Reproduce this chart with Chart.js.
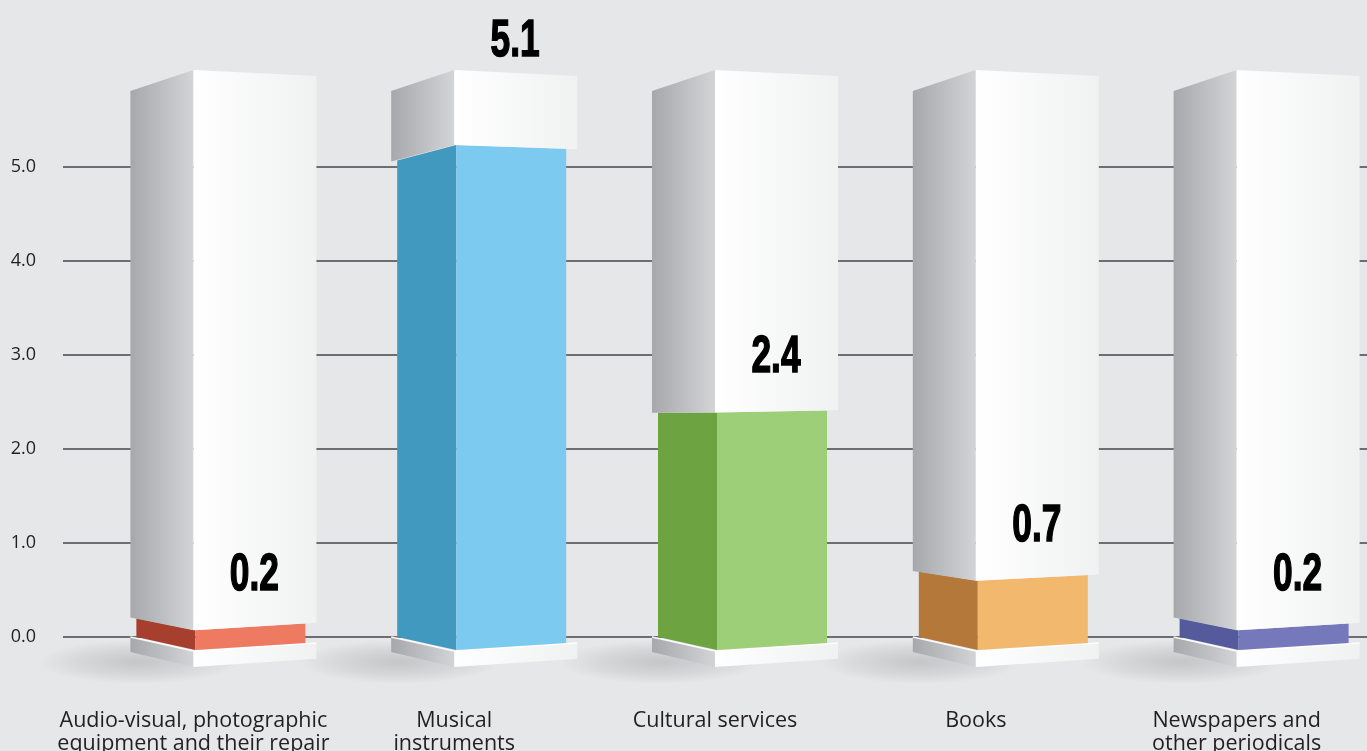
<!DOCTYPE html>
<html>
<head>
<meta charset="utf-8">
<script src="https://cdn.jsdelivr.net/npm/chart.js@4.4.1/dist/chart.umd.min.js"></script>
<style>
  html, body { margin: 0; padding: 0; background: #e6e7e8; overflow: hidden; }
  canvas { display: block; }
</style>
</head>
<body>
<canvas id="c" width="1367" height="751"></canvas>
<script>
// ---- data ----
const categories = [
  ['Audio-visual, photographic', 'equipment and their repair'],
  ['Musical', 'instruments'],
  ['Cultural services'],
  ['Books'],
  ['Newspapers and', 'other periodicals']
];
const values = [0.2, 5.1, 2.4, 0.7, 0.2];
const yTicks = [0, 1, 2, 3, 4, 5];
const frontColors = ['#ee7a62', '#7dcaf0', '#9ccf78', '#f2b86e', '#7579bb'];
const sideColors  = ['#a63f2e', '#4299c0', '#6ea342', '#b4793a', '#545a9c'];

// ---- perspective helpers (style) ----
const EL = 418.6, AL = 0.000956, EF = 319, AF = 0.000195;
function pL(x, dx, y) { return [x - dx, y + AL * dx * (EL - y)]; }
function pF(x, dx, y) { return [x + dx, y + AF * dx * (EF - y)]; }
function poly(ctx, pts, fill) {
  ctx.beginPath();
  ctx.moveTo(pts[0][0], pts[0][1]);
  for (let k = 1; k < pts.length; k++) ctx.lineTo(pts[k][0], pts[k][1]);
  ctx.closePath();
  ctx.fillStyle = fill;
  ctx.fill();
}
function box(ctx, cx, wl, wf, yTop, yBot, leftFill, frontFill) {
  poly(ctx, [[cx, yTop], pL(cx, wl, yTop), pL(cx, wl, yBot), [cx, yBot]], leftFill);
  poly(ctx, [[cx, yTop], pF(cx, wf, yTop), pF(cx, wf, yBot), [cx, yBot]], frontFill);
}
function grayGrad(ctx, cx, w) {
  const g = ctx.createLinearGradient(cx - w, 0, cx, 0);
  g.addColorStop(0, '#a6a8ab');
  g.addColorStop(1, '#d3d4d6');
  return g;
}
function whiteGrad(ctx, cx, w) {
  const g = ctx.createLinearGradient(cx, 0, cx + w, 0);
  g.addColorStop(0, '#ffffff');
  g.addColorStop(1, '#f0f1f1');
  return g;
}

const bgPlugin = {
  id: 'bg',
  beforeDraw(chart) {
    const ctx = chart.ctx;
    ctx.save();
    ctx.fillStyle = '#e6e7e8';
    ctx.fillRect(0, 0, chart.width, chart.height);
    ctx.restore();
  }
};

const columns3d = {
  id: 'columns3d',
  afterDatasetsDraw(chart) {
    const ctx = chart.ctx;
    const xs = chart.scales.x;
    const yb = chart.scales.yBar;
    const area = chart.chartArea;
    const meta = chart.getDatasetMeta(0);
    const base = yb.getPixelForValue(0);
    const top = area.top - 3;
    ctx.save();
    // shadows
    meta.data.forEach((el) => {
      const cx = el.x;
      const sx = cx - 55, sy = base + 12;
      ctx.save();
      ctx.translate(sx, sy);
      ctx.scale(1, 0.22);
      const g = ctx.createRadialGradient(0, 0, 0, 0, 0, 100);
      g.addColorStop(0, 'rgba(80,80,85,0.22)');
      g.addColorStop(0.6, 'rgba(80,80,85,0.10)');
      g.addColorStop(1, 'rgba(80,80,85,0)');
      ctx.fillStyle = g;
      ctx.beginPath();
      ctx.arc(0, 0, 100, 0, Math.PI * 2);
      ctx.fill();
      ctx.restore();
    });
    meta.data.forEach((el, i) => {
      const cx = el.x;
      const yv = el.y;
      // base slab
      box(ctx, cx, 63, 123, base + 1, base + 17, grayGrad(ctx, cx, 63), whiteGrad(ctx, cx, 123));
      ctx.strokeStyle = 'rgba(255,255,255,0.9)';
      ctx.lineWidth = 1.5;
      ctx.beginPath();
      const a = pL(cx, 63, base + 1), b = pF(cx, 123, base + 1);
      ctx.moveTo(a[0], a[1]); ctx.lineTo(cx, base + 1); ctx.lineTo(b[0], b[1]);
      ctx.stroke();
      // coloured column
      box(ctx, cx + 2, 59, 110, yv, base, sideColors[i], frontColors[i]);
      // white sleeve on top
      box(ctx, cx, 63, 123, top, yv, grayGrad(ctx, cx, 63), whiteGrad(ctx, cx, 123));
      // value label
      const txt = values[i].toFixed(1);
      let baseline = yv - 40;
      if (baseline - 37 < top + 15) baseline = top - 14;
      ctx.save();
      ctx.translate(cx + 61, baseline);
      ctx.scale(0.68, 1);
      ctx.font = 'bold 52px "Liberation Sans", Arial, sans-serif';
      ctx.textAlign = 'center';
      ctx.textBaseline = 'alphabetic';
      ctx.fillStyle = '#000000';
      ctx.strokeStyle = '#000000';
      ctx.lineWidth = 1.5;
      ctx.fillText(txt, 0, 0);
      ctx.strokeText(txt, 0, 0);
      ctx.restore();
    });
    // category labels under the columns, positioned by the x scale
    ctx.fillStyle = '#231f20';
    ctx.font = '21.5px "Open Sans", sans-serif';
    ctx.textAlign = 'center';
    ctx.textBaseline = 'alphabetic';
    categories.forEach((lines, i) => {
      const x = xs.getPixelForValue(i);
      lines.forEach((ln, j) => ctx.fillText(ln, x, area.bottom + 90 + j * 23));
    });
    ctx.restore();
  }
};

new Chart(document.getElementById('c'), {
  type: 'bar',
  data: {
    labels: categories,
    datasets: [{
      data: values,
      yAxisID: 'yBar',
      backgroundColor: 'rgba(0,0,0,0)',
      borderWidth: 0
    }]
  },
  options: {
    responsive: false,
    animation: false,
    devicePixelRatio: 1,
    layout: { padding: { top: 73, right: 0, bottom: 114, left: 0 } },
    plugins: { legend: { display: false }, tooltip: { enabled: false } },
    scales: {
      x: {
        display: false,
        offset: true
      },
      y: {
        position: 'left',
        min: 0, max: 6,
        afterBuildTicks(scale) { scale.ticks = yTicks.map(v => ({ value: v })); },
        afterFit(scale) { scale.width = 63; },
        grid: { color: '#6d6e71', lineWidth: 2, drawTicks: false },
        border: { display: false },
        ticks: {
          padding: 27,
          color: '#231f20',
          font: { family: '"Open Sans", sans-serif', size: 18 },
          callback: (v) => Number(v).toFixed(1)
        }
      },
      yBar: {
        display: false,
        min: 0.1313, max: 5.828
      }
    }
  },
  plugins: [bgPlugin, columns3d]
});
</script>
</body>
</html>
